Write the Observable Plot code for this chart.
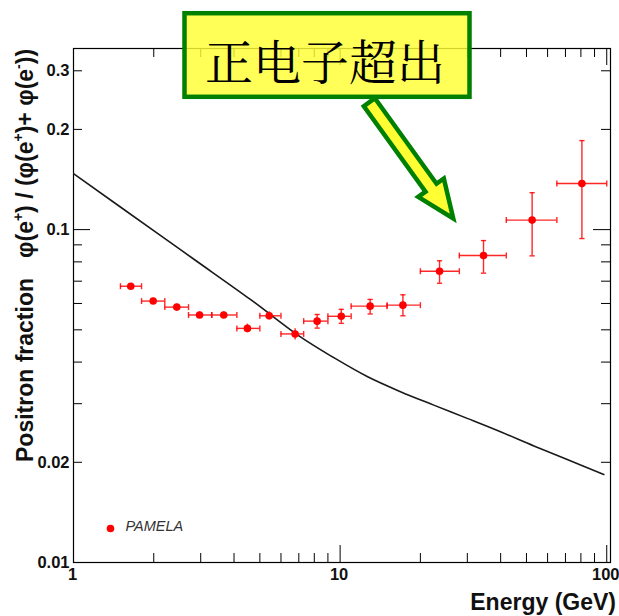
<!DOCTYPE html>
<html><head><meta charset="utf-8">
<script src="https://cdn.jsdelivr.net/npm/d3@7"></script>
<script src="https://cdn.jsdelivr.net/npm/@observablehq/plot@0.6"></script>
<style>body{margin:0;background:#fff}#chart svg{display:block}</style>
</head><body><div id="chart"></div>
<script>
// PAMELA positron fraction
const energy   = [1.64, 1.99, 2.44, 2.97, 3.66, 4.49, 5.42, 6.78, 8.20, 10.1, 12.96, 17.2, 23.6, 34.5, 52.5, 80.7];
const fraction = [0.0676, 0.0610, 0.0585, 0.0554, 0.0554, 0.0505, 0.0551, 0.0486, 0.0531, 0.0549, 0.0589, 0.0593, 0.0750, 0.0836, 0.1068, 0.1376];
const fracLo   = [0.0664, 0.0598, 0.0573, 0.0542, 0.0542, 0.0490, 0.0535, 0.0466, 0.0506, 0.0523, 0.0558, 0.0551, 0.0690, 0.0740, 0.0834, 0.0940];
const fracHi   = [0.0688, 0.0622, 0.0597, 0.0566, 0.0566, 0.0520, 0.0567, 0.0504, 0.0556, 0.0576, 0.0617, 0.0637, 0.0806, 0.0927, 0.1291, 0.1851];
const binLo    = [1.5, 1.8, 2.2, 2.7, 3.3, 4.1, 5.0, 6.0, 7.3, 9.0, 11, 15, 20, 28, 42, 65];
const binHi    = [1.8, 2.2, 2.7, 3.3, 4.1, 5.0, 6.0, 7.3, 9.0, 11, 15, 20, 28, 42, 65, 100];
// secondary-production model curve
const modelEnergy   = [1.0, 2.117, 2.864, 4.607, 7.10, 9.44, 12.63, 16.84, 22.45, 29.96, 39.95, 53.3, 71.1, 97.5];
const modelFraction = [0.1472, 0.0961, 0.0809, 0.0617, 0.0476, 0.0413, 0.0362, 0.0326, 0.0297, 0.0271, 0.0247, 0.0224, 0.0204, 0.01838];
// axes
const xTickLabels = [1, 10, 100];
const yTickLabels = [0.01, 0.02, 0.1, 0.2, 0.3];
const xMajor = [1, 10, 100];
const xMinor = [2, 3, 4, 5, 6, 7, 8, 9, 20, 30, 40, 50, 60, 70, 80, 90];
const yMajor = [0.01, 0.1];
const yMinor = [0.02, 0.03, 0.04, 0.05, 0.06, 0.07, 0.08, 0.09, 0.2, 0.3];
const xLabel = "Energy (GeV)";
const legendLabel = "PAMELA";
const annotationText = "正电子超出";

const W = 619, H = 616;
const mT = 48, mR = 9, mB = 54, mL = 73;
const iW = W - mL - mR, iH = H - mT - mB;
const FONT = "'Liberation Sans', Arial, Helvetica, sans-serif";
const RED = "#ff0000";

const pts = energy.map((e, i) => ({e, f: fraction[i], lo: fracLo[i], hi: fracHi[i], b0: binLo[i], b1: binHi[i]}));
const model = modelEnergy.map((e, i) => ({e, f: modelFraction[i]}));

const capV = {draw(ctx) { ctx.moveTo(0, -3); ctx.lineTo(0, 3); }};
const capH = {draw(ctx) { ctx.moveTo(-2.6, 0); ctx.lineTo(2.6, 0); }};

const plot = Plot.plot({
  width: W, height: H,
  marginTop: mT, marginRight: mR, marginBottom: mB, marginLeft: mL,
  style: {fontFamily: FONT, background: "#fff"},
  x: {type: "log", domain: [1, 103.3]},
  y: {type: "log", domain: [0.01, 0.35]},
  marks: [
    // inward ticks, bottom/top
    Plot.tickX(xMinor, {x: d => d, insetTop: iH - 9, stroke: "#000"}),
    Plot.tickX(xMajor, {x: d => d, insetTop: iH - 17, stroke: "#000"}),
    Plot.tickX(xMinor, {x: d => d, insetBottom: iH - 9, stroke: "#000"}),
    Plot.tickX(xMajor, {x: d => d, insetBottom: iH - 17, stroke: "#000"}),
    // inward ticks, left/right
    Plot.tickY(yMinor, {y: d => d, insetRight: iW - 9, stroke: "#000"}),
    Plot.tickY(yMajor, {y: d => d, insetRight: iW - 17, stroke: "#000"}),
    Plot.tickY(yMinor, {y: d => d, insetLeft: iW - 9, stroke: "#000"}),
    Plot.tickY(yMajor, {y: d => d, insetLeft: iW - 17, stroke: "#000"}),
    Plot.axisX({ticks: xTickLabels, tickSize: 0, tickPadding: 6, dx: -1, tickFormat: d => `${d}`, label: null,
      fontSize: 16.5, fontWeight: "bold", fill: "#111"}),
    Plot.axisY({ticks: yTickLabels, tickSize: 0, tickPadding: 4, tickFormat: d => `${d}`, label: null,
      fontSize: 16.5, fontWeight: "bold", fill: "#111"}),
    Plot.frame({stroke: "#000", strokeWidth: 1.2}),
    // model curve
    Plot.line(model, {x: "e", y: "f", curve: "catmull-rom", stroke: "#1a1a1a", strokeWidth: 1.6, clip: true}),
    // error bars
    Plot.ruleY(pts, {y: "f", x1: "b0", x2: "b1", stroke: RED, strokeWidth: 1.4, strokeOpacity: 0.85}),
    Plot.ruleX(pts, {x: "e", y1: "lo", y2: "hi", stroke: RED, strokeWidth: 1.4, strokeOpacity: 0.85}),
    Plot.dot(pts, {x: "b0", y: "f", symbol: capV, fill: "none", stroke: RED, strokeWidth: 1.4, strokeOpacity: 0.85}),
    Plot.dot(pts, {x: "b1", y: "f", symbol: capV, fill: "none", stroke: RED, strokeWidth: 1.4, strokeOpacity: 0.85}),
    Plot.dot(pts.filter(d => d.hi - d.lo > 0.004), {x: "e", y: "lo", symbol: capH, fill: "none", stroke: RED, strokeWidth: 1.4, strokeOpacity: 0.85}),
    Plot.dot(pts.filter(d => d.hi - d.lo > 0.004), {x: "e", y: "hi", symbol: capH, fill: "none", stroke: RED, strokeWidth: 1.4, strokeOpacity: 0.85}),
    Plot.dot(pts, {x: "e", y: "f", r: 3.8, fill: RED, stroke: "none"}),
    // legend
    Plot.dot([legendLabel], {frameAnchor: "bottom-left", dx: 37, dy: -34, r: 3.8, fill: RED}),
    Plot.text([legendLabel], {text: d => d, frameAnchor: "bottom-left", dx: 52, dy: -32, textAnchor: "start",
      fontSize: 14.5, fontStyle: "italic", fill: "#333"})
  ]
});
document.getElementById("chart").appendChild(plot);

const svg = d3.select(plot);

// x-axis title
svg.append("text").attr("x", 616).attr("y", 610).attr("text-anchor", "end")
  .attr("font-family", FONT).attr("font-weight", "bold").attr("font-size", 23).attr("fill", "#111")
  .text(xLabel);

// y-axis title
const yl = svg.append("text").attr("transform", "translate(33,462) rotate(-90)").attr("text-anchor", "start")
  .attr("font-family", FONT).attr("font-weight", "bold").attr("font-size", 23).attr("fill", "#111");
yl.append("tspan").text("Positron fraction");
function part(txt, opts = {}) {
  const t = yl.append("tspan").text(txt);
  if (opts.dx) t.attr("dx", opts.dx);
  if (opts.dy) t.attr("dy", opts.dy);
  if (opts.size) t.attr("font-size", opts.size);
  return t;
}
part("\u03c6(e", {dx: 20});
part("+", {dy: -10, size: 14});
part(") / (\u03c6(e", {dy: 10});
part("+", {dy: -10, size: 14});
part(")+ \u03c6(e", {dy: 10});
part("-", {dy: -10, size: 14});
part("))", {dy: 10});

// annotation box
const g = svg.append("g");
g.append("rect").attr("x", 184.5).attr("y", 13.2).attr("width", 285).attr("height", 83.6)
  .attr("fill", "#ffff33").attr("fill-opacity", 0.82);
g.append("rect").attr("x", 184.5).attr("y", 13.2).attr("width", 285).attr("height", 83.6)
  .attr("fill", "none").attr("stroke", "#008000").attr("stroke-width", 4.5);
g.append("text").attr("x", 325).attr("y", 59).attr("text-anchor", "middle").attr("dominant-baseline", "central")
  .attr("font-family", "'Noto Serif CJK SC','Noto Sans CJK SC', serif").attr("font-size", 48).attr("fill", "#000")
  .text(annotationText);

// arrow
const S = [368.5, 101], T = [456.7, 223.3];
const L = Math.hypot(T[0] - S[0], T[1] - S[1]);
const u = [(T[0] - S[0]) / L, (T[1] - S[1]) / L], v = [u[1], -u[0]];
const P = (p, a, b) => [p[0] + a * u[0] + b * v[0], p[1] + a * u[1] + b * v[1]];
const tip = P(T, -5.9, 0), base = P(tip, -38, 0), st = P(S, 1.5, 0);
const hw = 6.8, HW = 15.8;
const poly = [P(st, 0, hw), P(base, 0, hw), P(base, 0, HW), tip, P(base, 0, -HW), P(base, 0, -hw), P(st, 0, -hw)];
g.append("polygon").attr("points", poly.map(p => p.join(",")).join(" "))
  .attr("fill", "#ffff33").attr("stroke", "#008000").attr("stroke-width", 4.5).attr("stroke-linejoin", "miter");
</script>
</body></html>
